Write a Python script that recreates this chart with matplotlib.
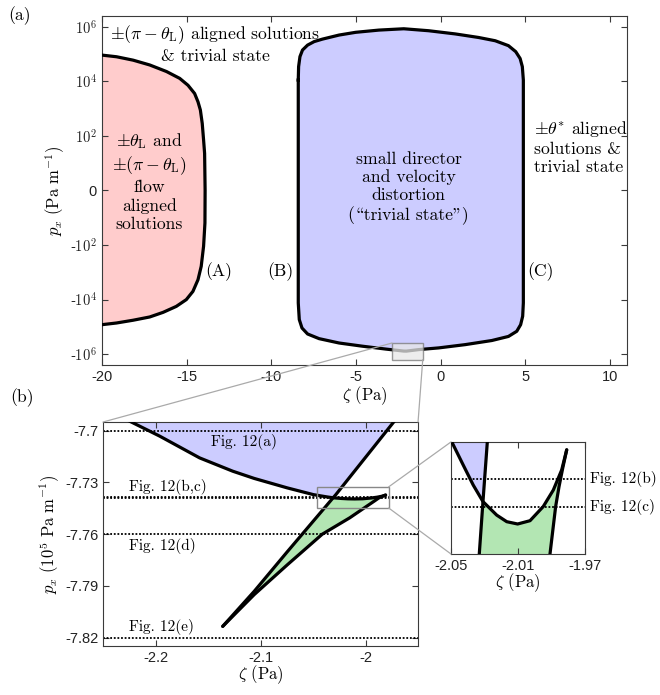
import numpy as np
import matplotlib
matplotlib.use('Agg')
import matplotlib.pyplot as plt
from matplotlib.patches import Rectangle, ConnectionPatch

plt.rcParams['mathtext.fontset'] = 'cm'
plt.rcParams['axes.unicode_minus'] = False
plt.rcParams['font.family'] = ['Liberation Sans', 'DejaVu Sans']

SERIF = ['cmr10', 'DejaVu Serif']
AXC = '#3a3a3a'
BLUE = '#ccccff'
RED = '#ffcccc'
GREEN = '#b3e6b3'

# ---- (a) full phase diagram: zeta (Pa) vs p_x (Pa/m) ----
# boundary (A) of the flow-aligned region, top -> bottom
zeta_A = [-20.0, -19.14, -18.16, -17.18, -16.19, -15.41, -14.92, -14.53, -14.33, -14.19,
          -14.08, -14.0, -13.94, -13.91, -13.92, -14.0, -14.14, -14.33, -14.63, -15.02,
          -15.61, -16.39, -17.18, -18.16, -19.14, -20.0]
px_A = [9.2e4, 8.0e4, 6.0e4, 4.0e4, 2.3e4, 1.29e4, 7.2e3, 3.6e3, 1.78e3, 890,
        287, 70, 22, 0, -14.5, -109, -600, -1.86e3, -5.0e3, -1.0e4,
        -1.77e4, -2.93e4, -4.33e4, -5.7e4, -7.2e4, -8.3e4]

# closed boundary (B)/(C) of the trivial-state region, clockwise from (B)
zeta_T = [-8.41, -8.39, -8.31, -8.16, -7.86, -7.47, -6.98, -6.0, -5.02, -3.65, -2.18,
          -0.71, 0.86, 2.24, 3.22, 4.0, 4.43, 4.69, 4.82, 4.88,
          4.88, 4.84, 4.72, 4.49, 4.0, 3.02, 1.45, -0.12, -1.29, -2.03, -2.18, -3.25,
          -4.63, -6.0, -7.18, -7.86, -8.19, -8.35, -8.41, -8.41]
px_T = [1.12e4, 3.47e4, 8.1e4, 1.41e5, 2.14e5, 2.88e5, 3.55e5, 5.0e5, 6.3e5, 7.6e5, 8.5e5,
        7.2e5, 5.5e5, 4.07e5, 3.09e5, 2.04e5, 1.23e5, 6.9e4, 3.47e4, 1.12e4,
        -1.32e4, -4.07e4, -8.3e4, -1.45e5, -2.24e5, -3.16e5, -4.47e5, -5.9e5, -6.8e5,
        -7.739e5, -7.71e5, -6.5e5, -5.1e5, -3.9e5, -2.7e5, -1.82e5, -1.1e5, -5.4e4,
        -1.32e4, 1.12e4]

a_yticks = [-1e6, -1e4, -1e2, 0, 1e2, 1e4, 1e6]
a_ylabels = ['-$\\mathsf{10^6}$', '-$\\mathsf{10^4}$', '-$\\mathsf{10^2}$', '0',
             '$\\mathsf{10^2}$', '$\\mathsf{10^4}$', '$\\mathsf{10^6}$']
a_xticks = [-20, -15, -10, -5, 0, 5, 10]

# zoom window marked in (a)
zoom_a = (-2.87, -1.06, -1.59e6, -3.9e5)

# ---- (b) swallowtail near the bottom of the trivial region (p_x in 1e5 Pa/m) ----
# lower edge of the trivial region, left end -> right cusp
para_z = [-2.232, -2.2244, -2.196, -2.158, -2.1265, -2.106, -2.0744, -2.0496, -2.0427,
          -2.0367, -2.0309, -2.0227, -2.0167, -2.0102, -2.0028, -1.9949, -1.9889,
          -1.9839, -1.9809]
para_p = [-7.6920, -7.6946, -7.7032, -7.7158, -7.7235, -7.7277, -7.7332, -7.73709, -7.73780,
          -7.73841, -7.73891, -7.73932, -7.73952, -7.73959, -7.73949, -7.73906, -7.73856,
          -7.73795, -7.73734]
i_cross = 10  # para point shared with the straight branch

# branch from the right cusp down to the lower cusp
low_z = [-1.9809, -1.9833, -1.9855, -1.9875, -1.9909, -2.015, -2.0412, -2.0744, -2.106, -2.136]
low_p = [-7.73734, -7.7379, -7.73846, -7.73906, -7.74051, -7.7505, -7.760, -7.7777, -7.7950, -7.8134]

# branch from the lower cusp up through the crossing point
line_z = [-2.136, -2.106, -2.0744, -2.0331, -2.0309, -2.0283, -1.9732, -1.966]
line_p = [-7.8134, -7.7931, -7.7701, -7.7405, -7.73891, -7.7371, -7.695, -7.6895]
j_cross = 4

fig_levels = [-7.70, -7.73822, -7.73907, -7.76, -7.82]
b_yticks = [-7.82, -7.79, -7.76, -7.73, -7.70]
b_ylabels = ['-7.82', '-7.79', '-7.76', '-7.73', '-7.7']
b_xticks = [-2.2, -2.1, -2.0]
b_xlabels = ['-2.2', '-2.1', '-2']
c_xticks = [-2.05, -2.01, -1.97]
zoom_b = (-2.046, -1.978, -7.7448, -7.7326)


def fwd(p):
    p = np.asarray(p, dtype=float)
    return np.sign(p) * np.log10(1 + np.abs(p))


def inv(t):
    t = np.asarray(t, dtype=float)
    return np.sign(t) * (10 ** np.abs(t) - 1)


def style(ax):
    for s in ax.spines.values():
        s.set_color(AXC)
        s.set_linewidth(0.8)
    ax.tick_params(direction='in', top=True, right=True, length=4, width=0.8,
                   color=AXC, labelcolor='#222222', labelsize=10.5)


fig = plt.figure(figsize=(6.6, 6.95), dpi=100)
ax_a = fig.add_axes([0.1545, 0.4748, 0.7955, 0.5022])
ax_b = fig.add_axes([0.1561, 0.0705, 0.4773, 0.3223])
ax_c = fig.add_axes([0.6833, 0.2029, 0.2030, 0.1612])

# ---- panel (a) ----
ax_a.set_yscale('function', functions=(fwd, inv))
ax_a.fill(zeta_A + [-21, -21], px_A + [-8.3e4, 9.2e4], color=RED, lw=0, zorder=1)
ax_a.plot(zeta_A, px_A, color='k', lw=2.3, zorder=3, solid_joinstyle='round')
ax_a.fill(zeta_T, px_T, color=BLUE, lw=0, zorder=1)
ax_a.plot(zeta_T, px_T, color='k', lw=2.3, zorder=3, solid_joinstyle='round')
z0, z1, q0, q1 = zoom_a
ax_a.add_patch(Rectangle((z0, q0), z1 - z0, q1 - q0, facecolor='#e8e8e8', alpha=0.75,
                         edgecolor='#777777', lw=1.0, zorder=4))
ax_a.set_xlim(-20, 11)
ax_a.set_ylim(-2.5e6, 2.5e6)
ax_a.set_yticks(a_yticks)
ax_a.set_yticklabels(a_ylabels)
ax_a.set_xticks(a_xticks)
ax_a.set_xticklabels([str(v) for v in a_xticks])
style(ax_a)
ax_a.set_xlabel(r'$\zeta$ (Pa)', fontfamily=SERIF, fontsize=12, labelpad=0)
ax_a.set_ylabel(r'$p_x\ (\mathrm{Pa\ m^{-1}})$', fontsize=12, labelpad=2)

tkw = dict(fontfamily=SERIF, fontsize=12.7, ha='center', va='center', zorder=5,
           linespacing=1.22)
ax_a.text(-13.3, 2.4e5, '$\\pm(\\pi-\\theta_{\\rm L})$ aligned solutions\n& trivial state', **tkw)
ax_a.text(-17.2, 1.2, '$\\pm\\theta_{\\rm L}$ and\n$\\pm(\\pi-\\theta_{\\rm L})$\nflow\naligned\nsolutions',
          **tkw)
ax_a.text(-1.9, 0.23, 'small director\nand velocity\ndistortion\n(\\trivial state")', **tkw)
ax_a.text(5.5, 37, '$\\pm\\theta^{*}$ aligned\nsolutions &\ntrivial state',
          fontfamily=SERIF, fontsize=12.7, ha='left', va='center', linespacing=1.22)
ax_a.text(-13.1, -930, '(A)', **tkw)
ax_a.text(-9.47, -930, '(B)', **tkw)
ax_a.text(5.88, -930, '(C)', **tkw)

# ---- panel (b) ----
blue_z = para_z[:i_cross + 1] + line_z[j_cross + 1:] + [line_z[-1], para_z[0]]
blue_p = para_p[:i_cross + 1] + line_p[j_cross + 1:] + [-7.68, -7.68]
green_z = para_z[i_cross:] + low_z[1:] + line_z[1:j_cross + 1]
green_p = para_p[i_cross:] + low_p[1:] + line_p[1:j_cross + 1]

for ax in (ax_b, ax_c):
    ax.fill(blue_z, blue_p, color=BLUE, lw=0, zorder=1)
    ax.fill(green_z, green_p, color=GREEN, lw=0, zorder=1)
    for lev in fig_levels:
        ax.axhline(lev, color='k', ls=(0, (1, 1)), lw=1.3, zorder=2)
    ax.plot(para_z, para_p, color='k', lw=2.3, zorder=3, solid_capstyle='round')
    ax.plot(low_z, low_p, color='k', lw=2.3, zorder=3, solid_capstyle='round')
    ax.plot(line_z, line_p, color='k', lw=2.3, zorder=3, solid_capstyle='round')
    style(ax)

ax_b.set_xlim(-2.25, -1.95)
ax_b.set_ylim(-7.8248, -7.695)
ax_b.set_xticks(b_xticks)
ax_b.set_xticklabels(b_xlabels)
ax_b.set_yticks(b_yticks)
ax_b.set_yticklabels(b_ylabels)
ax_b.set_xlabel(r'$\zeta$ (Pa)', fontfamily=SERIF, fontsize=12, labelpad=-1)
ax_b.set_ylabel(r'$p_x\ (10^5\ \mathrm{Pa\ m^{-1}})$', fontsize=12, labelpad=2)
lkw = dict(fontfamily=SERIF, fontsize=11, va='center', zorder=5)
ax_b.text(-2.1467, -7.7066, 'Fig. 12(a)', **lkw)
ax_b.text(-2.2253, -7.7326, 'Fig. 12(b,c)', **lkw)
ax_b.text(-2.2253, -7.7668, 'Fig. 12(d)', **lkw)
ax_b.text(-2.2253, -7.8136, 'Fig. 12(e)', **lkw)
bz0, bz1, bq0, bq1 = zoom_b
ax_b.add_patch(Rectangle((bz0, bq0), bz1 - bz0, bq1 - bq0, facecolor='none',
                         edgecolor='#888888', lw=1.0, zorder=4))

# ---- inset ----
ax_c.set_xlim(-2.05, -1.97)
ax_c.set_ylim(-7.7405, -7.7371)
ax_c.set_xticks(c_xticks)
ax_c.set_xticklabels(['-2.05', '-2.01', '-1.97'])
ax_c.set_yticks([])
ax_c.set_xlabel(r'$\zeta$ (Pa)', fontfamily=SERIF, fontsize=12, labelpad=-1)
ax_c.text(-1.9670, fig_levels[1], 'Fig. 12(b)', clip_on=False, **lkw)
ax_c.text(-1.9670, fig_levels[2], 'Fig. 12(c)', clip_on=False, **lkw)

# zoom connectors
ckw = dict(color='#aaaaaa', lw=0.9)
fig.add_artist(ConnectionPatch(xyA=(z0, q1), coordsA='data', axesA=ax_a,
                               xyB=(0, 1), coordsB='axes fraction', axesB=ax_b, **ckw))
fig.add_artist(ConnectionPatch(xyA=(z1, q0), coordsA='data', axesA=ax_a,
                               xyB=(1, 1), coordsB='axes fraction', axesB=ax_b, **ckw))
fig.add_artist(ConnectionPatch(xyA=(bz1, bq1), coordsA='data', axesA=ax_b,
                               xyB=(0, 1), coordsB='axes fraction', axesB=ax_c, **ckw))
fig.add_artist(ConnectionPatch(xyA=(bz1, bq0), coordsA='data', axesA=ax_b,
                               xyB=(0, 0), coordsB='axes fraction', axesB=ax_c, **ckw))

fig.text(0.012, 0.977, '(a)', fontfamily=SERIF, fontsize=12.7, va='center')
fig.text(0.015, 0.428, '(b)', fontfamily=SERIF, fontsize=12.7, va='center')

fig.savefig('out.png', dpi=100)
